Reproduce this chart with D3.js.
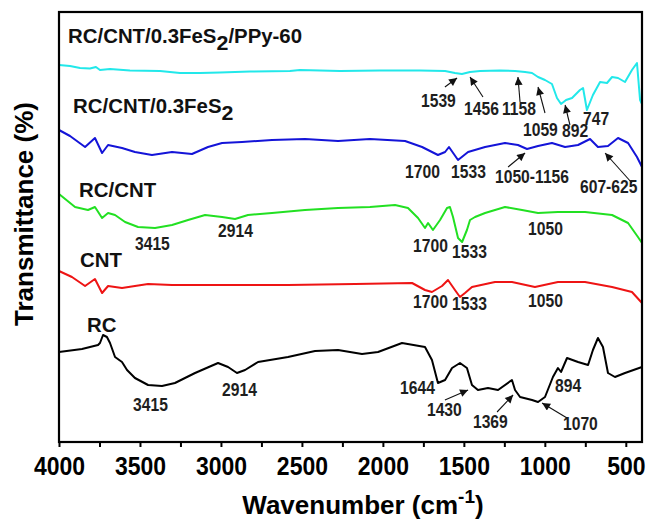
<!DOCTYPE html>
<html>
<head>
<meta charset="utf-8">
<script src="https://cdn.jsdelivr.net/npm/d3@7/dist/d3.min.js"></script>
<style>
  html, body { margin: 0; padding: 0; background: #fff; }
  svg { display: block; font-family: "Liberation Sans", Arial, sans-serif; }
</style>
</head>
<body>
<svg id="chart" width="647" height="526"></svg>
<script>
// FTIR spectra, [wavenumber (cm^-1), transmittance (offset, a.u.)]
const ppySpectrum = [
  [4000,75.4],[3932,75.2],[3870,74.8],[3809,74.7],[3772,75.0],[3747,74.4],[3685,74.6],
  [3562,74.3],[3376,74.2],[3253,73.8],[3129,73.8],[3006,73.9],[2821,74.1],[2574,74.2],
  [2512,74.4],[2265,74.2],[2018,74.3],[1771,74.3],[1616,74.2],[1555,73.8],[1512,73.6],
  [1462,74.0],[1400,74.2],[1277,74.3],[1184,74.2],[1122,74.0],[1079,73.8],[1042,73.0],
  [999,72.4],[956,71.6],[925,68.8],[900,67.6],[869,68.4],[832,68.8],[783,70.4],[764,70.8],
  [740,66.4],[703,69.4],[659,72.0],[616,71.8],[585,73.0],[548,72.8],[505,72.0],[462,74.4],
  [431,75.8],[412,68.4],[400,67.6]
];
const fes2Spectrum = [
  [4000,62.4],[3932,61.2],[3839,59.0],[3778,60.8],[3734,57.8],[3697,59.4],[3611,58.8],
  [3531,58.0],[3426,57.4],[3302,58.0],[3179,57.6],[3080,59.0],[2993,59.8],[2870,60.0],
  [2685,60.4],[2481,60.6],[2277,60.2],[2080,60.6],[1863,60.2],[1758,59.0],[1660,57.4],
  [1616,58.0],[1592,59.0],[1536,56.4],[1474,58.0],[1369,59.0],[1246,59.8],[1166,59.4],
  [1110,58.6],[1042,59.2],[956,59.8],[875,59.0],[795,59.4],[721,60.6],[672,59.0],
  [610,59.2],[548,60.8],[486,59.8],[431,57.0],[400,55.0]
];
const rcCntSpectrum = [
  [4000,49.6],[3901,47.0],[3821,46.4],[3778,47.0],[3734,44.8],[3697,45.8],[3654,45.4],
  [3592,44.0],[3512,43.0],[3407,42.8],[3302,43.4],[3203,44.4],[3098,45.4],[2993,45.0],
  [2913,44.6],[2833,45.4],[2685,45.8],[2481,46.4],[2277,46.8],[2080,47.0],[1925,47.4],
  [1845,46.8],[1783,44.8],[1740,42.8],[1721,43.8],[1691,42.4],[1647,44.4],[1604,46.8],
  [1586,47.0],[1567,45.0],[1536,40.8],[1511,40.0],[1481,42.4],[1462,44.4],[1431,45.0],
  [1369,45.8],[1246,47.0],[1141,46.4],[1042,45.8],[919,46.0],[752,46.0],[585,45.4],
  [486,43.8],[425,41.0],[400,39.8]
];
const cntSpectrum = [
  [4000,34.2],[3920,33.0],[3839,31.2],[3778,32.6],[3734,29.8],[3697,31.2],[3611,30.8],
  [3531,31.2],[3450,31.6],[3302,31.4],[2993,31.4],[2586,31.4],[2172,31.6],[1820,31.8],
  [1740,30.4],[1697,30.0],[1635,31.2],[1598,32.4],[1555,30.4],[1524,29.0],[1493,29.8],
  [1450,31.0],[1308,32.0],[1203,32.0],[1061,31.0],[919,32.0],[752,32.0],[585,31.0],
  [462,30.0],[400,27.8]
];
const rcSpectrum = [
  [4000,18.0],[3858,18.6],[3759,19.4],[3747,19.8],[3728,21.4],[3704,21.0],[3685,19.8],
  [3654,17.0],[3611,16.0],[3580,14.4],[3531,12.8],[3450,11.4],[3364,11.2],[3284,11.8],
  [3160,13.8],[3018,15.8],[2956,15.0],[2901,13.8],[2851,14.4],[2771,16.0],[2586,17.0],
  [2419,18.2],[2277,18.4],[2129,17.6],[2030,18.0],[1882,19.8],[1740,19.0],[1697,16.4],
  [1660,11.8],[1616,12.4],[1573,14.8],[1524,15.8],[1481,14.8],[1450,11.4],[1413,10.4],
  [1351,10.8],[1289,10.4],[1203,12.4],[1184,10.4],[1153,9.0],[1079,8.4],[1042,8.0],
  [999,9.0],[950,13.0],[919,14.8],[900,14.0],[863,16.8],[795,16.0],[733,15.4],[703,18.4],
  [672,20.8],[641,19.0],[610,13.8],[567,13.0],[505,13.8],[400,15.0]
];

const seriesNames = ["RC/CNT/0.3FeS2/PPy-60", "RC/CNT/0.3FeS2", "RC/CNT", "CNT", "RC"];
const seriesData = [ppySpectrum, fes2Spectrum, rcCntSpectrum, cntSpectrum, rcSpectrum];
const seriesColors = ["#22e8ea", "#1414d8", "#22e022", "#ee1414", "#000000"];
// anchor of each trace name, in data units [wavenumber, value]
const nameAnchors = [[3944,79.8],[3913,65.8],[3876,49.0],[3870,35.0],[3827,22.0]];

// band assignments: [text, wavenumber, value] (left/baseline of the text)
const bandLabels = [
  ["1539",1765,67.0],["1456",1499,65.4],["1158",1265,65.4],["1059",1135,61.2],["892",894,61.0],["747",764,63.4],
  ["1700",1863,52.8],["1533",1579,52.8],["1050-1156",1308,51.8],["607-625",783,49.8],
  ["3415",3531,38.4],["2914",3018,41.0],["1700",1814,38.0],["1533",1573,36.8],["1050",1104,41.4],
  ["1700",1814,26.8],["1533",1573,26.4],["1050",1104,27.0],
  ["3415",3543,6.2],["2914",2993,9.2],["1644",1894,9.6],["1430",1728,5.2],["1369",1444,2.8],["1070",888,2.4],["894",937,10.0]
];
// pointer arrows: [fromWn, fromVal, toWn, toVal]
const bandArrows = [
  [1617,71.0,1542,72.8],[1382,69.0,1462,73.0],[1153,68.0,1166,73.0],[999,65.8,1042,71.0],[845,63.4,875,67.4],
  [1227,55.0,1122,57.8],[462,51.8,628,57.8],
  [1617,8.4,1474,10.4],[1295,6.0,1196,9.4],[863,4.8,1017,7.8]
];

const xTicks = d3.range(4000, 399, -250);

const W = 647, H = 526;
const margin = {top: 12, right: 5, bottom: 84, left: 59};
const svg = d3.select("#chart");

const x = d3.scaleLinear().domain([4000, 400]).range([margin.left, W - margin.right]);
const y = d3.scaleLinear().domain([0, 86]).range([H - margin.bottom, margin.top]);

// arrow head
svg.append("defs").append("marker")
  .attr("id", "head")
  .attr("viewBox", "0 0 10 10")
  .attr("refX", 10).attr("refY", 5)
  .attr("markerWidth", 9).attr("markerHeight", 8)
  .attr("markerUnits", "userSpaceOnUse")
  .attr("orient", "auto")
  .append("path").attr("d", "M0,0L10,5L0,10Z").attr("fill", "#111");

// spectra
const line = d3.line().x(d => x(d[0])).y(d => y(d[1]));
svg.append("g").selectAll("path")
  .data(seriesData)
  .join("path")
  .attr("d", line)
  .attr("fill", "none")
  .attr("stroke", (d, i) => seriesColors[i])
  .attr("stroke-width", 2)
  .attr("stroke-linejoin", "round");

// trace names (FeS2 with subscript 2)
const names = svg.append("g")
  .attr("font-size", 20).attr("font-weight", "bold").attr("fill", "#111");
seriesNames.forEach((name, i) => {
  const t = names.append("text")
    .attr("transform", `translate(${x(nameAnchors[i][0])},${y(nameAnchors[i][1])}) scale(1.02,1)`);
  const parts = name.split("FeS2");
  if (parts.length === 2) {
    t.append("tspan").text(parts[0] + "FeS");
    t.append("tspan").attr("dy", 7).attr("font-size", 21).text("2");
    if (parts[1]) t.append("tspan").attr("dy", -7).text(parts[1]);
  } else {
    t.text(name);
  }
});

// band labels (slightly tall lettering)
svg.append("g")
  .attr("font-size", 16).attr("font-weight", "bold").attr("fill", "#1e1e1e")
  .selectAll("text")
  .data(bandLabels)
  .join("text")
  .attr("transform", d => `translate(${x(d[1])},${y(d[2])}) scale(0.98,1.14)`)
  .text(d => d[0]);

// arrows
svg.append("g").selectAll("line")
  .data(bandArrows)
  .join("line")
  .attr("x1", d => x(d[0])).attr("y1", d => y(d[1]))
  .attr("x2", d => x(d[2])).attr("y2", d => y(d[3]))
  .attr("stroke", "#111").attr("stroke-width", 1.1)
  .attr("marker-end", "url(#head)");

// x axis
const xAxis = d3.axisBottom(x)
  .tickValues(xTicks)
  .tickSize(5)
  .tickPadding(11)
  .tickFormat(d => d % 500 === 0 ? d : "");
const gx = svg.append("g")
  .attr("transform", `translate(0,${H - margin.bottom})`)
  .call(xAxis);
gx.select(".domain").remove();
gx.selectAll(".tick line").attr("stroke", "#000").attr("stroke-width", 2);
gx.selectAll(".tick text")
  .attr("y", null).attr("dy", null)
  .attr("transform", "translate(0,33) scale(1,1.12)")
  .attr("fill", "#000").attr("font-size", 23).attr("font-weight", "bold")
  .attr("font-family", "'Liberation Sans', Arial, sans-serif");

// frame
svg.append("rect")
  .attr("x", margin.left).attr("y", margin.top)
  .attr("width", W - margin.left - margin.right)
  .attr("height", H - margin.top - margin.bottom)
  .attr("fill", "none").attr("stroke", "#000").attr("stroke-width", 2.2);

// axis titles
const xt = svg.append("text")
  .attr("x", 363).attr("y", 514)
  .attr("text-anchor", "middle")
  .attr("font-size", 26).attr("font-weight", "bold").attr("fill", "#000");
xt.append("tspan").text("Wavenumber (cm");
xt.append("tspan").attr("dy", -11).attr("font-size", 19).text("-1");
xt.append("tspan").attr("dy", 11).text(")");

svg.append("text")
  .attr("transform", "translate(33,214) rotate(-90)")
  .attr("text-anchor", "middle")
  .attr("font-size", 26).attr("font-weight", "bold").attr("fill", "#000")
  .text("Transmittance (%)");
</script>
</body>
</html>
